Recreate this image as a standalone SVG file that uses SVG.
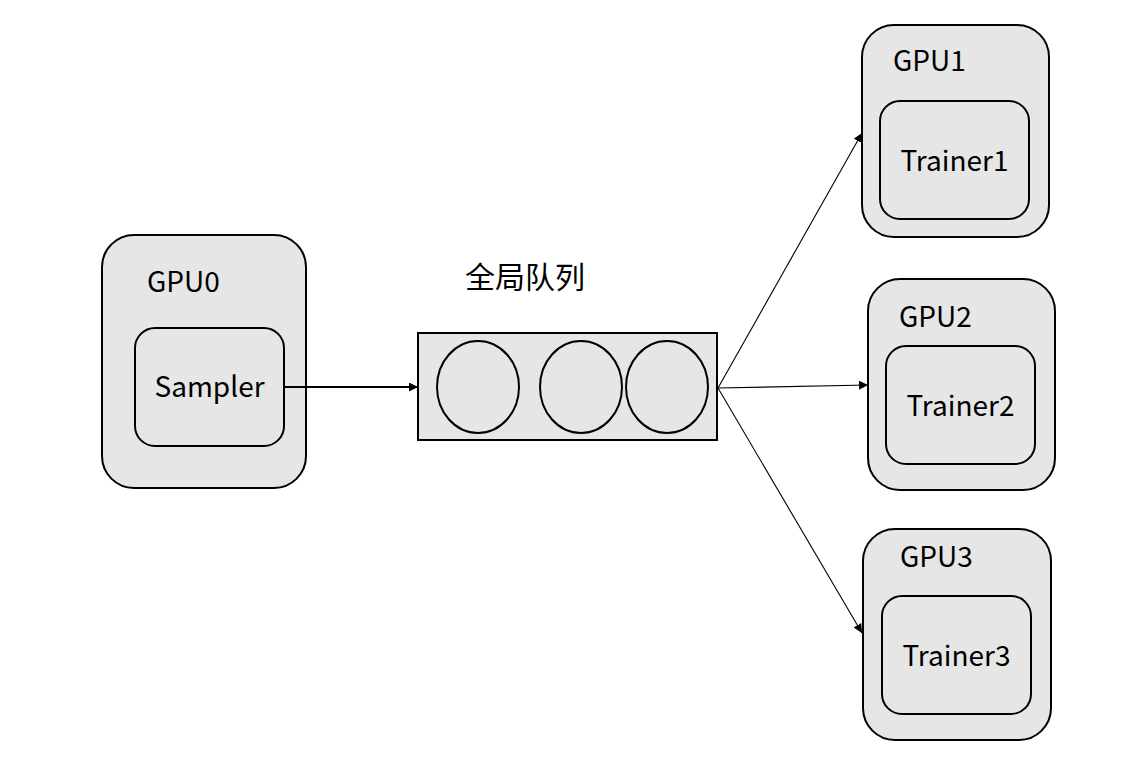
<svg xmlns="http://www.w3.org/2000/svg" width="1148" height="782" viewBox="0 0 1148 782">
<defs>
<style>
.outer{fill:#e6e6e6;stroke:#000;stroke-width:2}
.inner{fill:#e6e6e6;stroke:#000;stroke-width:2}
.lbl{font-family:"Noto Sans CJK SC","Noto Sans",sans-serif;font-size:28px;fill:#000}
.cn{font-family:"Noto Sans CJK SC",sans-serif;font-size:30px;fill:#000}
.conn{stroke:#000;stroke-width:1.1;fill:none;marker-end:url(#ah)}
.thick{stroke-width:1.8}
</style>
<marker id="ah" viewBox="0 0 10 10" refX="10" refY="5" markerWidth="9" markerHeight="9" markerUnits="userSpaceOnUse" orient="auto">
<path d="M0,0 L10,5 L0,10 z" fill="#000"/>
</marker>
</defs>
<rect width="1148" height="782" fill="#fff"/>
<g id="gpu0">
<rect class="outer" x="102" y="235" width="204" height="253" rx="32"/>
<text class="lbl" x="147" y="292">GPU0</text>
<rect class="inner" x="135" y="328" width="149" height="118" rx="20"/>
<text class="lbl" x="209.5" y="397" text-anchor="middle">Sampler</text>
</g>
<g id="queue">
<text class="cn" x="465" y="288">全局队列</text>
<rect class="outer" x="418" y="333" width="299" height="107"/>
<ellipse class="inner" cx="478" cy="387" rx="41" ry="46"/>
<ellipse class="inner" cx="581" cy="387" rx="41" ry="46"/>
<ellipse class="inner" cx="667" cy="387" rx="41" ry="46"/>
</g>
<g id="gpu1">
<rect class="outer" x="862" y="25" width="187" height="212" rx="32"/>
<text class="lbl" x="893" y="71">GPU1</text>
<rect class="inner" x="880" y="101" width="149" height="118" rx="20"/>
<text class="lbl" x="954.5" y="171" text-anchor="middle">Trainer1</text>
</g>
<g id="gpu2">
<rect class="outer" x="868" y="279" width="187" height="211" rx="32"/>
<text class="lbl" x="899" y="327">GPU2</text>
<rect class="inner" x="886" y="346" width="149" height="118" rx="20"/>
<text class="lbl" x="960.5" y="416" text-anchor="middle">Trainer2</text>
</g>
<g id="gpu3">
<rect class="outer" x="863" y="529" width="188" height="211" rx="32"/>
<text class="lbl" x="900" y="567">GPU3</text>
<rect class="inner" x="882" y="596" width="149" height="118" rx="20"/>
<text class="lbl" x="956.5" y="666" text-anchor="middle">Trainer3</text>
</g>
<g id="connectors">
<line class="conn thick" x1="285" y1="387" x2="418" y2="387"/>
<line class="conn" x1="718" y1="388" x2="862" y2="133"/>
<line class="conn" x1="718" y1="388" x2="868" y2="385"/>
<line class="conn" x1="718" y1="388" x2="862" y2="633"/>
</g>
</svg>
